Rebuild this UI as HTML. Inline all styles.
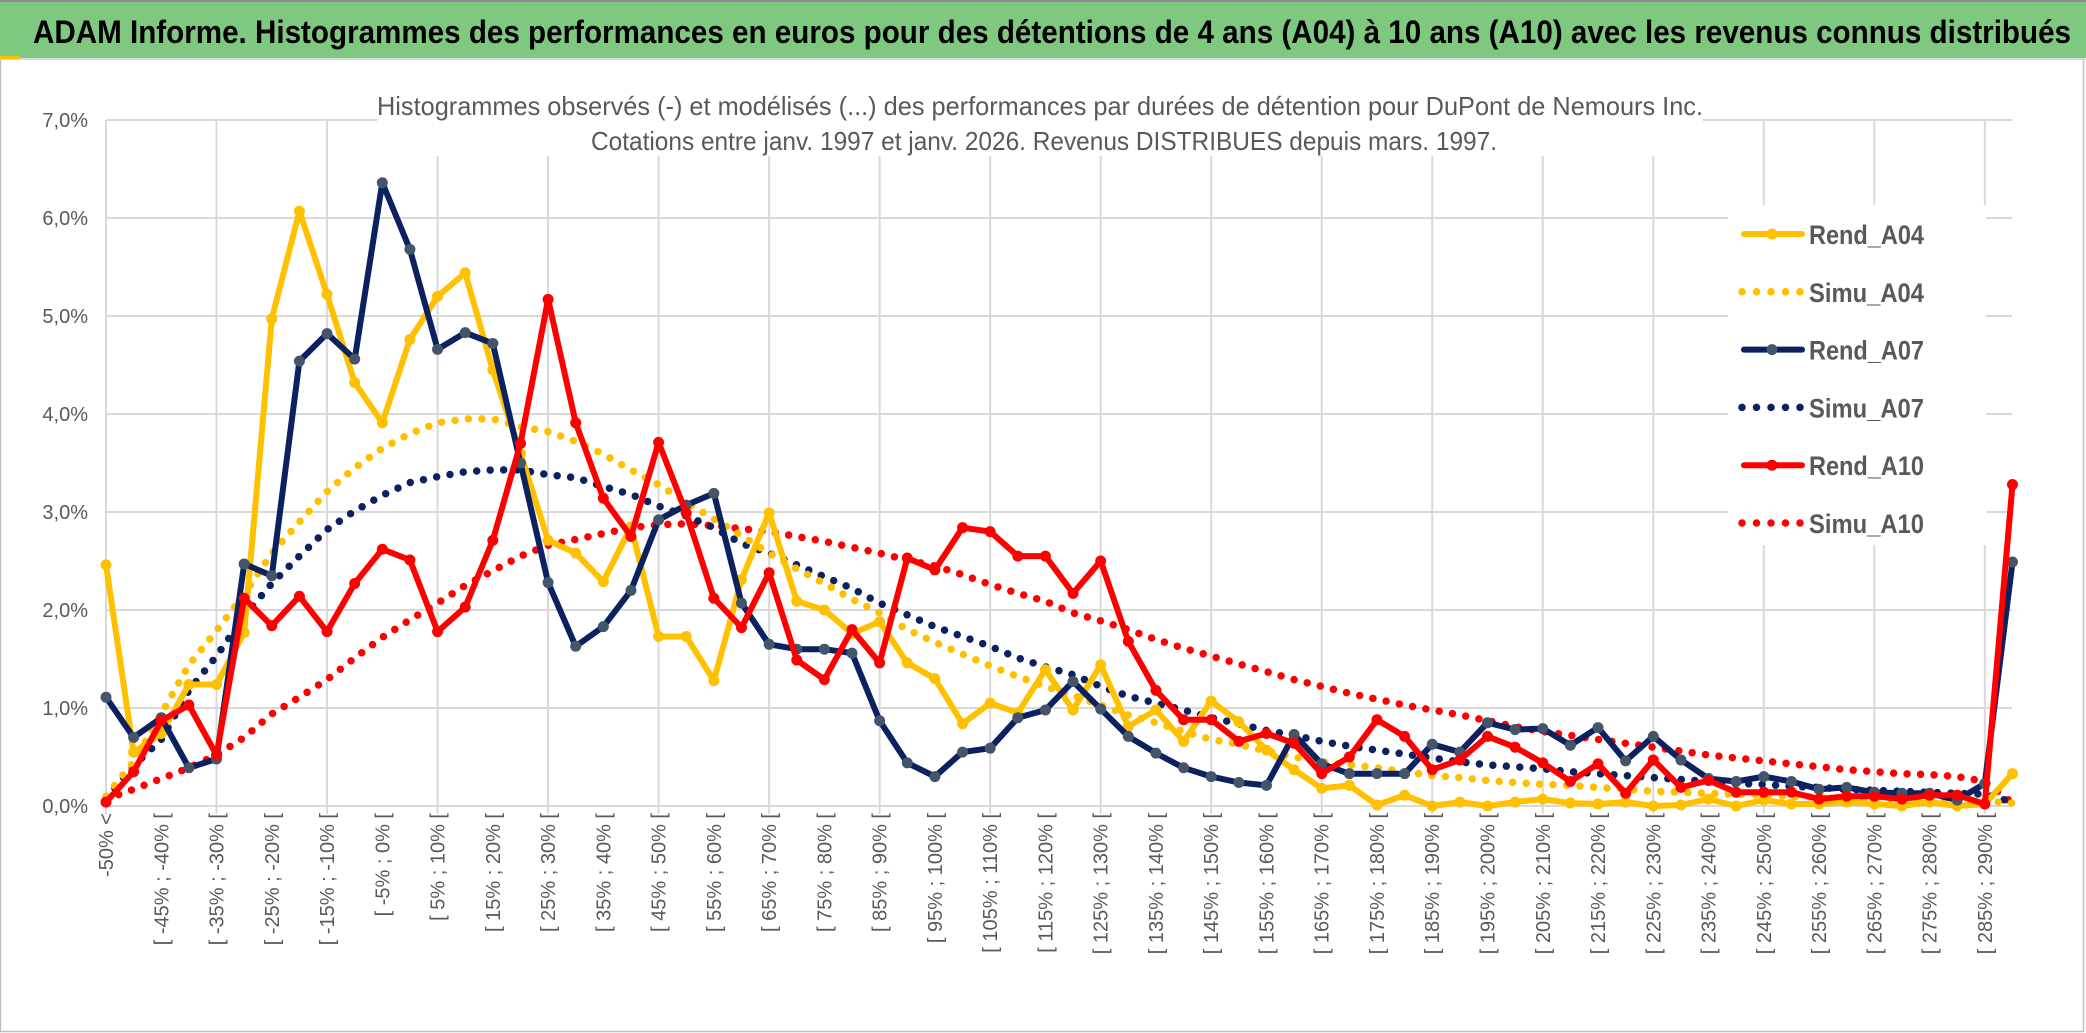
<!DOCTYPE html>
<html><head><meta charset="utf-8"><style>
html,body{margin:0;padding:0;background:#fff;}
svg{display:block;font-family:"Liberation Sans Narrow","Liberation Sans",sans-serif;}
</style></head><body>
<svg id="chart" width="2086" height="1033" viewBox="0 0 2086 1033" xmlns="http://www.w3.org/2000/svg">
<rect x="0" y="0" width="2086" height="1033" fill="#fff"/>
<rect x="0.5" y="0.5" width="2083" height="1031" fill="none" stroke="#bfbfbf" stroke-width="1.5"/>
<rect x="0" y="2" width="2086" height="56" fill="#7ec97f"/>
<line x1="0" y1="1" x2="2086" y2="1" stroke="#8c8c8c" stroke-width="2"/>
<line x1="0" y1="59" x2="2086" y2="59" stroke="#d9d9d9" stroke-width="2"/>
<rect x="0" y="56" width="20" height="3" fill="#ffc000"/>
<text x="33" y="43" font-size="32" font-weight="bold" fill="#000" textLength="2038" lengthAdjust="spacingAndGlyphs">ADAM Informe. Histogrammes des performances en euros pour des détentions de 4 ans (A04) à 10 ans (A10) avec les revenus connus distribués</text>
<g id="grid"></g>
<rect x="377" y="88" width="1326" height="68" fill="#fff"/>
<text x="377" y="115" font-size="26" fill="#595959" textLength="1326" lengthAdjust="spacingAndGlyphs">Histogrammes observés (-) et modélisés (...) des performances par durées de détention pour DuPont de Nemours Inc.</text>
<text x="591" y="150" font-size="26" fill="#595959" textLength="906" lengthAdjust="spacingAndGlyphs">Cotations entre janv. 1997 et janv. 2026. Revenus DISTRIBUES depuis mars. 1997.</text>
<g id="yaxis"></g>
<g id="xaxis"></g>
<g id="series"></g>
<g id="legend"></g>
</svg>
<script>
const categories = (function(){const c=["-50% <","[ -50% ; -45% ["];for(let l=-45;l<=290;l+=5){c.push("[ "+l+"% ; "+(l+5)+"% [");}return c;})();
const yTicks = [0,1,2,3,4,5,6,7];
const yTickLabels = ["0,0%","1,0%","2,0%","3,0%","4,0%","5,0%","6,0%","7,0%"];
const rendA04 = [2.46,0.55,0.74,1.24,1.24,1.77,4.97,6.07,5.22,4.32,3.91,4.76,5.20,5.44,4.45,3.6,2.71,
 2.58,2.29,2.85,1.73,1.73,1.28,2.31,2.99,2.09,2.0,1.76,1.88,1.46,1.30,0.84,1.05,0.95,1.39,0.98,
 1.44,0.81,0.98,0.66,1.07,0.86,0.57,0.37,0.18,0.21,0.01,0.11,0.0,0.04,0.0,0.04,0.07,
 0.03,0.02,0.04,0.0,0.01,0.07,0.0,0.06,0.02,0.02,0.04,0.02,0.0,0.04,0.0,0.02,0.33];
const simuA04 = [0.1,0.45,0.94,1.44,1.79,2.16,2.58,2.90,3.21,3.45,3.65,3.80,3.91,3.95,3.95,3.87,3.82,
 3.72,3.59,3.43,3.28,3.10,2.93,2.76,2.58,2.42,2.27,2.11,1.97,1.80,1.67,1.55,1.43,1.32,1.22,1.13,
 1.03,0.93,0.85,0.76,0.68,0.63,0.56,0.50,0.45,0.42,0.39,0.35,0.31,0.29,0.26,0.24,0.22,
 0.21,0.19,0.17,0.15,0.14,0.13,0.12,0.11,0.10,0.09,0.08,0.08,0.07,0.06,0.06,0.05,0.03];
const rendA07 = [1.11,0.70,0.90,0.39,0.48,2.47,2.35,4.54,4.82,4.56,6.36,5.68,4.66,4.83,4.72,3.5,2.28,
 1.63,1.83,2.20,2.92,3.07,3.19,2.07,1.65,1.60,1.60,1.56,0.87,0.44,0.30,0.55,0.59,0.90,0.98,1.27,
 0.99,0.71,0.54,0.39,0.30,0.24,0.21,0.73,0.43,0.33,0.33,0.33,0.63,0.55,0.85,0.78,0.79,
 0.62,0.80,0.46,0.71,0.47,0.28,0.25,0.30,0.25,0.17,0.19,0.14,0.13,0.13,0.06,0.23,2.49];
const simuA07 = [0.08,0.41,0.68,1.18,1.53,1.94,2.27,2.55,2.82,3.01,3.17,3.30,3.36,3.41,3.43,3.43,3.38,
 3.35,3.26,3.18,3.06,2.96,2.84,2.68,2.58,2.46,2.34,2.22,2.07,1.95,1.83,1.73,1.63,1.51,1.42,1.34,
 1.22,1.12,1.05,0.98,0.90,0.84,0.77,0.72,0.66,0.61,0.57,0.53,0.49,0.45,0.42,0.40,0.38,
 0.35,0.33,0.31,0.29,0.27,0.25,0.23,0.22,0.20,0.19,0.17,0.16,0.15,0.14,0.13,0.12,0.04];
const rendA10 = [0.04,0.35,0.87,1.03,0.52,2.12,1.84,2.14,1.78,2.27,2.62,2.51,1.78,2.03,2.71,3.7,5.17,
 3.91,3.14,2.75,3.71,2.99,2.12,1.82,2.38,1.49,1.29,1.80,1.46,2.53,2.41,2.84,2.80,2.55,2.55,2.17,
 2.50,1.68,1.18,0.88,0.88,0.66,0.74,0.64,0.33,0.50,0.88,0.71,0.37,0.47,0.71,0.60,0.44,
 0.25,0.43,0.13,0.47,0.19,0.26,0.14,0.14,0.14,0.07,0.10,0.10,0.07,0.11,0.11,0.02,3.28];
const simuA10 = [0.07,0.17,0.28,0.39,0.52,0.70,0.94,1.11,1.29,1.51,1.72,1.90,2.07,2.25,2.40,2.55,2.66,
 2.72,2.78,2.84,2.87,2.88,2.86,2.83,2.80,2.75,2.70,2.64,2.58,2.51,2.45,2.36,2.26,2.17,2.09,1.97,
 1.89,1.80,1.70,1.61,1.53,1.45,1.37,1.29,1.22,1.15,1.09,1.03,0.98,0.93,0.87,0.81,0.76,
 0.72,0.68,0.64,0.60,0.56,0.52,0.49,0.46,0.43,0.40,0.37,0.35,0.33,0.32,0.30,0.25,0.03];
const seriesNames = ["Rend_A04","Simu_A04","Rend_A07","Simu_A07","Rend_A10","Simu_A10"];

const NS="http://www.w3.org/2000/svg";
const X0=106, STEP=27.63, Y0=806, YPX=98, XEND=2012;
function xs(i){return X0+i*STEP;}
function ys(v){return Y0-v*YPX;}
function mk(tag,attrs,parent){const e=document.createElementNS(NS,tag);for(const k in attrs)e.setAttribute(k,attrs[k]);parent.appendChild(e);return e;}

const grid=document.getElementById('grid');
yTicks.forEach(function(t){
  const l=mk('line',{x1:X0,x2:XEND,y1:ys(t),y2:ys(t),stroke:'#d9d9d9','stroke-width':2},grid);
  
  
});
for(let i=0;i<categories.length;i+=4){
  const l=mk('line',{x1:xs(i),x2:xs(i),y1:ys(7),y2:ys(0)+8,stroke:'#d9d9d9','stroke-width':2},grid);
  
  
}
const yax=document.getElementById('yaxis');
yTicks.forEach(function(t,i){
  const tx=mk('text',{x:88,y:ys(t)+7,'font-size':20,fill:'#595959','text-anchor':'end'},yax);
  tx.textContent=yTickLabels[i];
  
  
});
const xax=document.getElementById('xaxis');
categories.forEach(function(c,i){
  if(i!==0 && i%2!==0) return;
  const tx=mk('text',{x:0,y:0,'font-size':20,fill:'#595959','text-anchor':'end',transform:'translate('+(xs(i)+7)+',813) rotate(-90)'},xax);
  tx.textContent=c;
  
  
});

const ser=document.getElementById('series');
function pts(arr){return arr.map(function(v,i){return xs(i).toFixed(1)+','+ys(v).toFixed(1);}).join(' ');}
function dotted(arr,color,name){
  const p=mk('polyline',{points:pts(arr),fill:'none',stroke:color,'stroke-width':7.5,'stroke-linecap':'round','stroke-dasharray':'0 13.5'},ser);
  
  
}
function solid(arr,color,mcol,name){
  const g=mk('g',{},ser);
  
  
  mk('polyline',{points:pts(arr),fill:'none',stroke:color,'stroke-width':6,'stroke-linejoin':'round'},g);
  arr.forEach(function(v,i){
    const c=mk('circle',{cx:xs(i),cy:ys(v),r:5.5,fill:mcol},g);
    
    
  });
}
dotted(simuA10,'#ff0000','series-simu-a10');
dotted(simuA07,'#0b2160','series-simu-a07');
dotted(simuA04,'#ffc000','series-simu-a04');
solid(rendA04,'#ffc000','#ffc000','series-rend-a04');
solid(rendA07,'#0b2160','#44546a','series-rend-a07');
solid(rendA10,'#ff0000','#ff0000','series-rend-a10');

const leg=document.getElementById('legend');
mk('rect',{x:1728,y:205,width:258,height:340,fill:'#fff'},leg);
const legStyles=[['#ffc000','#ffc000',false],['#ffc000','',true],['#0b2160','#44546a',false],['#0b2160','',true],['#ff0000','#ff0000',false],['#ff0000','',true]];
seriesNames.forEach(function(n,i){
  const y=234+i*57.8;
  const g=mk('g',{},leg);
  
  
  const s=legStyles[i];
  if(s[2]){
    mk('line',{x1:1742,x2:1802,y1:y,y2:y,stroke:s[0],'stroke-width':7.5,'stroke-linecap':'round','stroke-dasharray':'0 14.5'},g);
  } else {
    mk('line',{x1:1744,x2:1802,y1:y,y2:y,stroke:s[0],'stroke-width':6,'stroke-linecap':'round'},g);
    mk('circle',{cx:1772,cy:y,r:5.5,fill:s[1]},g);
  }
  const t=mk('text',{x:1809,y:y+10,'font-size':27,'font-weight':'bold',fill:'#595959',textLength:115,lengthAdjust:'spacingAndGlyphs'},g);
  t.textContent=n;
});
</script>
</body></html>
